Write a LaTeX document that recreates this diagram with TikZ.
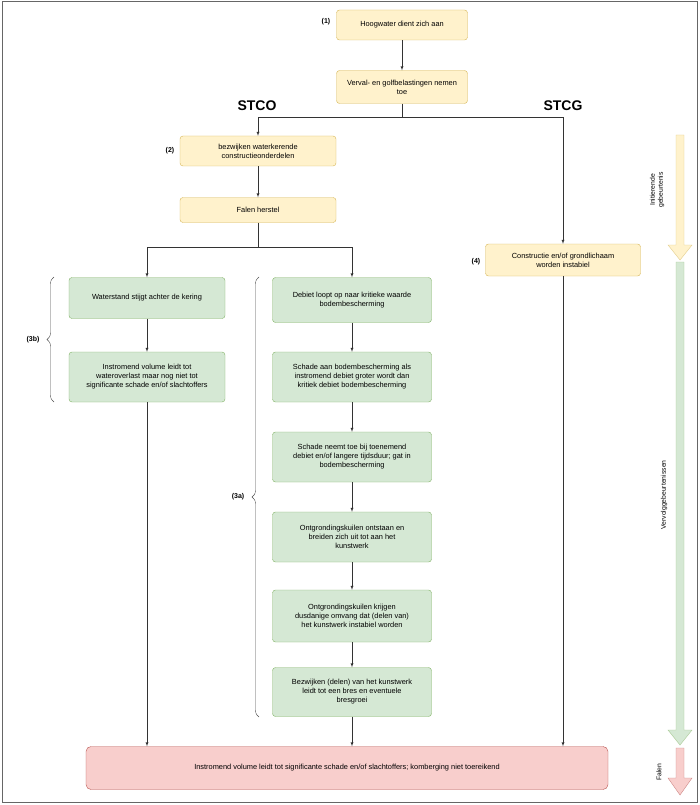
\documentclass[tikz,border=0pt]{standalone}
\usepackage{fontspec}
\setmainfont{Liberation Sans}
\usetikzlibrary{decorations.pathreplacing}
\definecolor{boxyellow}{RGB}{255, 242, 204}
\definecolor{lineyellow}{RGB}{214, 182, 86}
\definecolor{boxgreen}{RGB}{213, 232, 212}
\definecolor{linegreen}{RGB}{130, 179, 102}
\definecolor{boxred}{RGB}{248, 206, 204}
\definecolor{linered}{RGB}{184, 84, 80}

\tikzset{
  ybox/.style={draw=lineyellow, fill=boxyellow, rounded corners=3pt, align=center,
    font=\fontsize{7.4}{9}\selectfont},
  gbox/.style={draw=linegreen, fill=boxgreen, rounded corners=3pt, align=center,
    font=\fontsize{7.4}{9}\selectfont},
  rbox/.style={draw=linered, fill=boxred, rounded corners=5pt, align=center,
    font=\fontsize{7.4}{9}\selectfont},
  tag/.style={font=\fontsize{7}{8.5}\selectfont\bfseries},
  flow/.style={->, >=latex, black!80},
  side/.style={font=\fontsize{6.8}{8}\selectfont, align=center, rotate=90},
  brace/.style={decorate, decoration={brace, amplitude=7pt}, black!70}
}

\begin{document}
\begin{tikzpicture}[x=1pt, y=-1pt]
  \useasboundingbox (0,0) rectangle (700,805);
  \draw[black!60, line width=1pt] (2,2) rectangle (697,802);

  % Initierende gebeurtenissen
  \node[ybox, minimum width=131pt, minimum height=30pt] (hoog) at (402,25) {Hoogwater dient zich aan};
  \node[ybox, minimum width=131pt, minimum height=33pt] (verval) at (402,87) {Verval- en golfbelastingen nemen\\toe};
  \node[tag] at (326,22) {(1)};
  \node[font=\fontsize{14}{16}\selectfont\bfseries] at (257,106) {STCO};
  \node[font=\fontsize{14}{16}\selectfont\bfseries] at (563,106) {STCG};

  % STCO
  \node[ybox, minimum width=156pt, minimum height=30pt] (bezw) at (258,151) {bezwijken waterkerende\\constructieonderdelen};
  \node[tag] at (170,151) {(2)};
  \node[ybox, minimum width=156pt, minimum height=25pt] (herstel) at (258,210) {Falen herstel};

  % STCG
  \node[ybox, minimum width=155pt, minimum height=32pt] (instab) at (563,260) {Constructie en/of grondlichaam\\worden instabiel};
  \node[tag] at (476,262) {(4)};

  % (3b)
  \node[gbox, minimum width=156pt, minimum height=41pt] (stand) at (147,298) {Waterstand stijgt achter de kering};
  \node[gbox, minimum width=156pt, minimum height=50pt] (overlast) at (147,377) {Instromend volume leidt tot\\wateroverlast maar nog niet tot\\significante schade en/of slachtoffers};

  % (3a)
  \node[gbox, minimum width=159pt, minimum height=45pt] (debiet) at (352,300) {Debiet loopt op naar kritieke waarde\\bodembescherming};
  \node[gbox, minimum width=159pt, minimum height=50pt] (schade) at (352,377) {Schade aan bodembescherming als\\instromend debiet groter wordt dan\\kritiek debiet bodembescherming};
  \node[gbox, minimum width=159pt, minimum height=50pt] (gat) at (352,457) {Schade neemt toe bij toenemend\\debiet en/of langere tijdsduur; gat in\\bodembescherming};
  \node[gbox, minimum width=159pt, minimum height=50pt] (kuil) at (352,537) {Ontgrondingskuilen ontstaan en\\breiden zich uit tot aan het\\kunstwerk};
  \node[gbox, minimum width=159pt, minimum height=52pt] (omvang) at (352,616) {Ontgrondingskuilen krijgen\\dusdanige omvang dat (delen van)\\het kunstwerk instabiel worden};
  \node[gbox, minimum width=159pt, minimum height=49pt] (bres) at (352,692) {Bezwijken (delen) van het kunstwerk\\leidt tot een bres en eventuele\\bresgroei};

  % Falen
  \node[rbox, minimum width=522pt, minimum height=43pt] (falen) at (347,768) {Instromend volume leidt tot significante schade en/of slachtoffers; komberging niet toereikend};

  % accolades
  \draw[brace] (54,402) -- (54,277);
  \node[tag] at (33,340) {(3b)};
  \draw[brace] (259,717) -- (259,277);
  \node[tag] at (238,497) {(3a)};

  % Pijlen
  \draw[flow] (hoog) -- (verval);
  \coordinate (split) at (402,117);
  \draw[black!80] (verval.south) -- (split);
  \draw[flow] (split) -| (bezw.north);
  \draw[flow] (split) -| (instab.north);
  \draw[flow] (bezw) -- (herstel);
  \coordinate (fork) at (258,247);
  \draw[black!80] (herstel.south) -- (fork);
  \draw[flow] (fork) -| (stand.north);
  \draw[flow] (fork) -| (debiet.north);
  \draw[flow] (stand) -- (overlast);
  \foreach \a/\b in {debiet/schade, schade/gat, gat/kuil, kuil/omvang, omvang/bres}
    \draw[flow] (\a) -- (\b);
  \draw[flow] (overlast.south) -- (overlast.south |- falen.north);
  \draw[flow] (bres.south) -- (bres.south |- falen.north);
  \draw[flow] (instab.south) -- (instab.south |- falen.north);

  % Fasen
  \draw[lineyellow!70, fill=boxyellow] (676,135) -- (684,135) -- (684,245) -- (692,245) -- (680,260) -- (668,245) -- (676,245) -- cycle;
  \draw[linegreen!70, fill=boxgreen] (676,262) -- (684,262) -- (684,730) -- (692,730) -- (680,745) -- (668,730) -- (676,730) -- cycle;
  \draw[linered!70, fill=boxred] (676,748) -- (684,748) -- (684,778) -- (692,778) -- (680,795) -- (668,778) -- (676,778) -- cycle;
  \node[side] at (657,190) {Initierende\\gebeurtenis};
  \node[side] at (664,495) {Vervolggebeurtenissen};
  \node[side] at (659,772) {Falen};
\end{tikzpicture}
\end{document}
